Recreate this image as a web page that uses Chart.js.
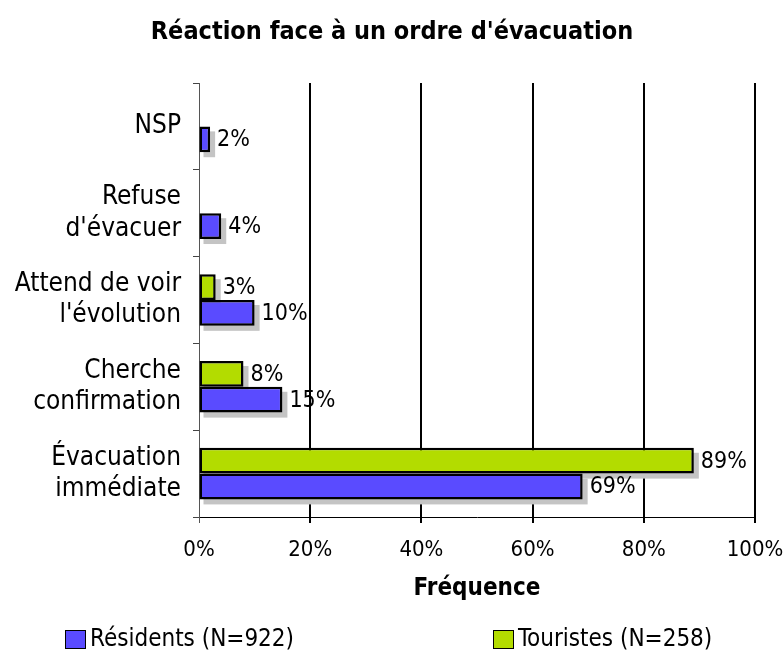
<!DOCTYPE html>
<html>
<head>
<meta charset="utf-8">
<script src="https://cdn.jsdelivr.net/npm/chart.js@4"></script>
<style>
    html, body { margin: 0; padding: 0; background: #ffffff; }
    #chartBox { width: 784px; height: 653px; }
</style>
</head>
<body>
<div id="chartBox"><canvas id="reactionGraphic"></canvas></div>
<script>
let categories = [
    'NSP',
    ['Refuse', "d'évacuer"],
    ['Attend de voir', "l'évolution"],
    ['Cherche', 'confirmation'],
    ['Évacuation', 'immédiate']
];
let residents = [2, 4, 10, 15, 69];
let touristes = [null, null, 3, 8, 89];
let xTicks = [0, 20, 40, 60, 80, 100];

let residentsLabel = 'Résidents (N=922)';
let touristesLabel = 'Touristes (N=258)';
let residentsColor = '#5a4bff';
let touristesColor = '#b3dc00';

let fontFamily = "'DejaVu Sans Condensed', 'DejaVu Sans', sans-serif";

/* grey drop shadow behind each bar */
let barShadows = {
    id: 'barShadows',
    beforeDatasetsDraw: function (chart) {
        let ctx = chart.ctx;
        ctx.save();
        ctx.fillStyle = '#c4c4c4';
        chart.data.datasets.forEach(function (ds, i) {
            chart.getDatasetMeta(i).data.forEach(function (bar, j) {
                if (ds.data[j] === null) return;
                let p = bar.getProps(['x', 'y', 'base', 'height'], true);
                ctx.fillRect(p.base + 4, p.y - p.height / 2 + 5, p.x - p.base + 1, p.height);
            });
        });
        ctx.restore();
    }
};

/* value written after each bar */
let barValues = {
    id: 'barValues',
    afterDatasetsDraw: function (chart) {
        let ctx = chart.ctx;
        ctx.save();
        ctx.font = '23px ' + fontFamily;
        ctx.fillStyle = '#000000';
        ctx.textAlign = 'left';
        ctx.textBaseline = 'middle';
        chart.data.datasets.forEach(function (ds, i) {
            chart.getDatasetMeta(i).data.forEach(function (bar, j) {
                if (ds.data[j] === null) return;
                let p = bar.getProps(['x', 'y'], true);
                ctx.fillText(ds.data[j] + '%', p.x + 7, p.y + 1);
            });
        });
        ctx.restore();
    }
};

/* legend row under the axis title */
let bottomLegend = {
    id: 'bottomLegend',
    afterDraw: function (chart) {
        let ctx = chart.ctx;
        let items = [
            { text: residentsLabel, color: residentsColor, x: 65 },
            { text: touristesLabel, color: touristesColor, x: 493 }
        ];
        ctx.save();
        ctx.font = '24px ' + fontFamily;
        ctx.textAlign = 'left';
        ctx.textBaseline = 'middle';
        items.forEach(function (item) {
            ctx.fillStyle = item.color;
            ctx.fillRect(item.x, 630, 20, 18);
            ctx.strokeStyle = '#000000';
            ctx.lineWidth = 1;
            ctx.strokeRect(item.x + 0.5, 630.5, 20, 18);
            ctx.fillStyle = '#000000';
            ctx.fillText(item.text, item.x + 25, 640);
        });
        ctx.restore();
    }
};

let ctx = document.getElementById('reactionGraphic').getContext('2d');

let graphic = new Chart(ctx, {
    type: 'bar',
    data: {
        labels: categories,
        datasets: [
            {
                label: touristesLabel,
                data: touristes,
                backgroundColor: touristesColor,
                borderColor: '#000000',
                borderWidth: 2.5,
                borderSkipped: false
            },
            {
                label: residentsLabel,
                data: residents,
                backgroundColor: residentsColor,
                borderColor: '#000000',
                borderWidth: 2.5,
                borderSkipped: false
            }
        ]
    },
    options: {
        indexAxis: 'y',
        responsive: true,
        maintainAspectRatio: false,
        animation: false,
        categoryPercentage: 0.595,
        barPercentage: 1,
        layout: {
            padding: { left: 0, right: 0, top: 0, bottom: 50 }
        },
        plugins: {
            legend: { display: false },
            tooltip: { enabled: false },
            title: {
                display: true,
                text: "Réaction face à un ordre d'évacuation",
                color: '#000000',
                font: { family: fontFamily, size: 25, weight: 'bold' },
                padding: { top: 17, bottom: 36 }
            }
        },
        scales: {
            x: {
                min: 0,
                max: 100,
                afterBuildTicks: function (axis) {
                    axis.ticks = xTicks.map(function (v) { return { value: v }; });
                },
                afterFit: function (axis) {
                    axis.height = 86;
                    axis.paddingRight = 29;
                    axis.paddingLeft = 0;
                },
                ticks: {
                    color: '#000000',
                    padding: 14,
                    font: { family: fontFamily, size: 22 },
                    callback: function (value) { return value + '%'; }
                },
                grid: {
                    color: function (c) { return c.index === 0 ? '#555555' : '#000000'; },
                    lineWidth: function (c) { return c.index === 0 ? 1 : 2; },
                    tickLength: 6
                },
                border: { display: true, color: '#000000', width: 1 },
                title: {
                    display: true,
                    text: 'Fréquence',
                    color: '#000000',
                    font: { family: fontFamily, size: 24, weight: 'bold' },
                    padding: { top: 0, bottom: 0 }
                }
            },
            y: {
                afterFit: function (axis) {
                    axis.width = 199;
                },
                ticks: {
                    color: '#000000',
                    padding: 12,
                    font: { family: fontFamily, size: 26, lineHeight: 1.2 }
                },
                grid: {
                    drawOnChartArea: false,
                    color: '#444444',
                    tickLength: 6
                },
                border: { display: true, color: '#555555', width: 1 }
            }
        }
    },
    plugins: [barShadows, barValues, bottomLegend]
});
</script>
</body>
</html>
